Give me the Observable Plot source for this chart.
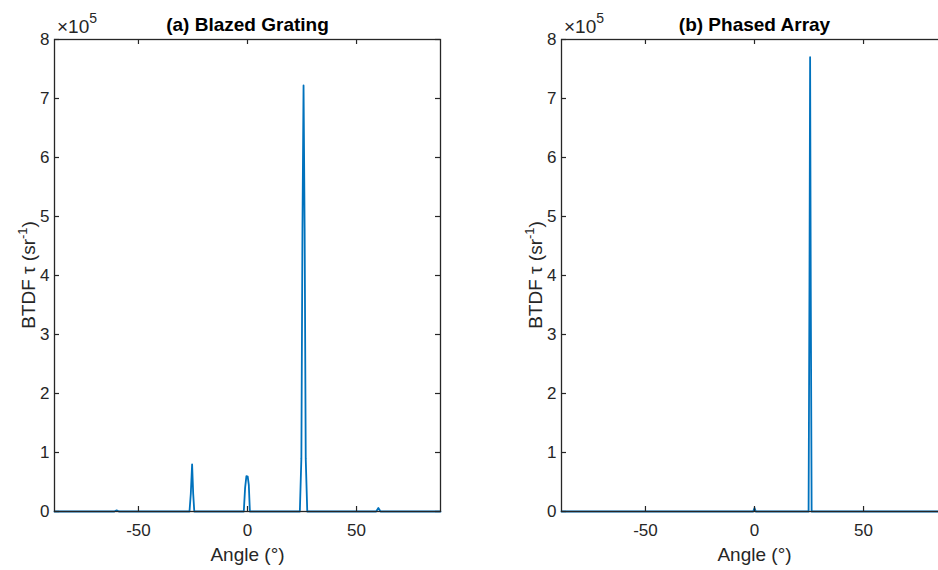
<!DOCTYPE html>
<html><head><meta charset="utf-8">
<script src="https://cdn.jsdelivr.net/npm/d3@7"></script>
<script src="https://cdn.jsdelivr.net/npm/@observablehq/plot@0.6"></script>
<style>
html,body{margin:0;padding:0;background:#fff;overflow:hidden;width:938px;height:570px;}
#wrap{position:relative;width:938px;height:570px;overflow:hidden;}
.panel{position:absolute;top:0;}
</style></head><body><div id="wrap"></div>
<script>
// ---- data ----
const xTicks = [-50, 0, 50];
const xTickLabels = ["-50", "0", "50"];
const yTicks = [0, 1e5, 2e5, 3e5, 4e5, 5e5, 6e5, 7e5, 8e5];
const yTickLabels = ["0", "1", "2", "3", "4", "5", "6", "7", "8"];
const angleDomain = [-88.5, 88.5];
const titles = ["(a) Blazed Grating", "(b) Phased Array"];
const xLabel = "Angle (°)";
const yLabelMain = "BTDF τ (sr";
const yLabelSup = "-1";
const yExponent = "5";

const blazedAngle = [-88.5, -61, -60, -59, -26.6, -26, -25.4, -24.9, -24.4, -1.7, -1.1, -0.5, 0.1, 0.6, 1.1, 24.0, 24.7, 25.2, 25.7, 26.2, 26.7, 27.4, 59, 60, 61, 88.5];
const blazedValue = [0, 0, 2000, 0, 0, 30000, 80000, 30000, 0, 0, 40000, 60000, 59000, 45000, 0, 0, 90000, 480000, 722000, 480000, 90000, 0, 0, 6000, 0, 0];

const phasedAngle = [-88.5, -0.6, 0, 0.6, 24.8, 25.2, 25.5, 25.8, 26.2, 88.5];
const phasedValue = [0, 0, 6000, 0, 0, 380000, 770000, 380000, 0, 0];

// ---- layout ----
const mL = 54, mT = 39, mB = 59, frameW = 386, mR = 30, H = 570;
const frameH = H - mT - mB;
const tickLen = 5;
const ink = "#262626";
const font = "'Liberation Sans', Arial, Helvetica, sans-serif";

function panel(angles, values, title, left) {
  const data = angles.map((a, i) => ({a, v: values[i]}));
  const W = mL + frameW + mR;
  const p = Plot.plot({
    width: W, height: H,
    marginLeft: mL, marginRight: mR, marginTop: mT, marginBottom: mB,
    style: {fontFamily: font, fontSize: "17px", color: ink, background: "transparent", overflow: "visible"},
    x: {domain: angleDomain},
    y: {domain: [0, 8e5]},
    marks: [
      Plot.line(data, {x: "a", y: "v", stroke: "#0072BD", strokeWidth: 1.8}),
      Plot.tickX(xTicks, {x: d => d, insetTop: frameH - tickLen, stroke: ink, strokeWidth: 1.2}),
      Plot.tickX(xTicks, {x: d => d, insetBottom: frameH - tickLen, stroke: ink, strokeWidth: 1.2}),
      Plot.tickY(yTicks, {y: d => d, insetRight: frameW - tickLen, stroke: ink, strokeWidth: 1.2}),
      Plot.tickY(yTicks, {y: d => d, insetLeft: frameW - tickLen, stroke: ink, strokeWidth: 1.2}),
      Plot.frame({stroke: ink, strokeWidth: 1.3}),
      Plot.axisX({ticks: xTicks, tickSize: 0, tickPadding: 12, label: null, tickFormat: d => xTickLabels[xTicks.indexOf(d)], fontSize: 17, fill: ink}),
      Plot.axisY({ticks: yTicks, tickSize: 0, tickPadding: 5, label: null, tickFormat: d => yTickLabels[yTicks.indexOf(d)], fontSize: 17, fill: ink}),
      Plot.text([xLabel], {frameAnchor: "bottom", text: d => d, dy: 49, lineAnchor: "bottom", fontSize: 19, fill: ink}),
      Plot.text([title], {frameAnchor: "top", text: d => d, dy: -9, lineAnchor: "bottom", fontSize: 19, fontWeight: "bold", fill: "#000"})
    ]
  });
  p.classList.add("panel");
  p.style.left = left + "px";
  const svg = d3.select(p);
  // y label with superscript
  const yl = svg.append("text")
    .attr("transform", `translate(35,${mT + frameH / 2}) rotate(-90)`)
    .attr("text-anchor", "middle")
    .attr("font-family", font).attr("font-size", 19).attr("fill", ink);
  yl.append("tspan").text(yLabelMain);
  yl.append("tspan").attr("font-size", 13).attr("dy", -8).text(yLabelSup);
  yl.append("tspan").attr("dy", 8).text(")");
  // exponent label
  const ex = svg.append("text")
    .attr("x", mL + 3).attr("y", mT - 6)
    .attr("text-anchor", "start")
    .attr("font-family", font).attr("font-size", 19).attr("fill", ink);
  ex.append("tspan").text("×10");
  ex.append("tspan").attr("font-size", 14).attr("dy", -10).text(yExponent);
  document.getElementById("wrap").appendChild(p);
}

panel(blazedAngle, blazedValue, titles[0], 0);
panel(phasedAngle, phasedValue, titles[1], 507);
</script></body></html>
